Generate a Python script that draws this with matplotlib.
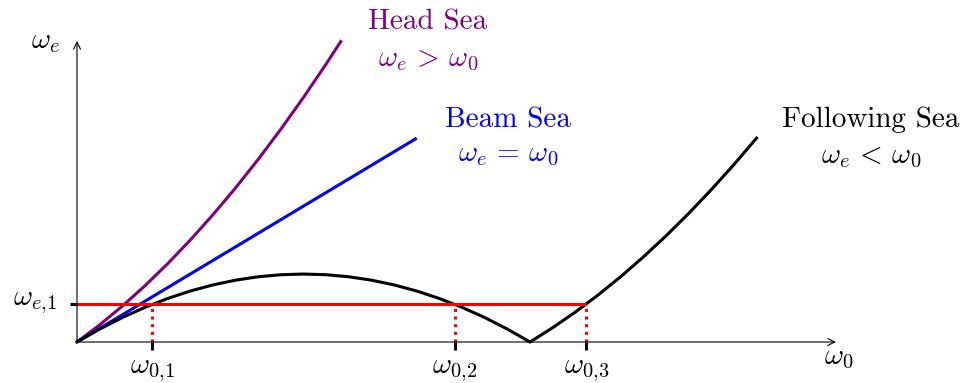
import matplotlib
matplotlib.use("Agg")
import matplotlib.pyplot as plt

plt.rcParams['mathtext.fontset'] = 'cm'
plt.rcParams['font.family'] = ['cmr10', 'DejaVu Serif']

# ---- data (omega_0 in units of the following-sea zero crossing) ----
head_w0 = [0.0, 0.05, 0.10, 0.15, 0.20, 0.25, 0.30, 0.35, 0.40, 0.45, 0.50, 0.55, 0.584]
head_we = [0.0, 0.063, 0.132, 0.207, 0.288, 0.375, 0.468, 0.567, 0.672, 0.783, 0.900, 1.023, 1.110]

beam_w0 = [0.0, 0.75]
beam_we = [0.0, 0.75]

follow_w0 = [0.0, 0.05, 0.10, 0.15, 0.20, 0.25, 0.30, 0.35, 0.40, 0.45, 0.50, 0.55, 0.60, 0.65,
             0.70, 0.75, 0.80, 0.85, 0.90, 0.95, 1.00, 1.05, 1.10, 1.15, 1.20, 1.25, 1.30, 1.35,
             1.40, 1.45, 1.50]
follow_we = [0.0, 0.0475, 0.09, 0.1275, 0.16, 0.1875, 0.21, 0.2275, 0.24, 0.2475, 0.25, 0.2475,
             0.24, 0.2275, 0.21, 0.1875, 0.16, 0.1275, 0.09, 0.0475, 0.0, 0.0525, 0.11, 0.1725,
             0.24, 0.3125, 0.39, 0.4725, 0.56, 0.6525, 0.75]

we1 = 0.139
w0_marks = [0.166, 0.834, 1.124]
w0_labels = [r'$\omega_{0{,}1}$', r'$\omega_{0{,}2}$', r'$\omega_{0{,}3}$']

# ---- pixel mapping helpers (layout) ----
X0, Y0, SX, SY = 77.0, 342.0, 453.0, 271.8
W, H = 960, 383
def px(x):
    return (x - X0) / SX
def py(y):
    return (Y0 - y) / SY

FS = 21

fig = plt.figure(figsize=(W / 100, H / 100), dpi=100)
ax = fig.add_axes([0, 0, 1, 1])
ax.set_xlim(px(0), px(W))
ax.set_ylim(py(H), py(0))
ax.axis('off')

# axes with arrows
ax.annotate('', xy=(px(836), 0), xytext=(px(77), 0),
            arrowprops=dict(arrowstyle='->,head_length=0.5,head_width=0.25', lw=0.8, color='black',
                            shrinkA=0, shrinkB=0))
ax.annotate('', xy=(0, py(41)), xytext=(0, 0),
            arrowprops=dict(arrowstyle='->,head_length=0.5,head_width=0.25', lw=0.8, color='black',
                            shrinkA=0, shrinkB=0))

# curves
LW = 2.2
ax.plot(head_w0, head_we, color='#800080', lw=LW, solid_capstyle='butt', zorder=3)
ax.plot(beam_w0, beam_we, color='#0000FF', lw=LW, solid_capstyle='butt', zorder=3)
ax.plot(follow_w0, follow_we, color='black', lw=LW, solid_joinstyle='miter', zorder=3)

# red level line and dotted drops
ax.plot([0, w0_marks[-1]], [we1, we1], color='#FF0000', lw=LW, solid_capstyle='butt', zorder=4)
for m in w0_marks:
    ax.plot([m, m], [0, we1], color='#FF0000', lw=LW, ls=(0, (1.0, 1.5)), zorder=2)

# ticks
tick_len_x = 8 / SY
tick_len_y = 7 / SX
for m, lab in zip(w0_marks, w0_labels):
    ax.plot([m, m], [0, -tick_len_x], color='black', lw=2.2, solid_capstyle='butt', zorder=5)
    ax.text(m, py(371), lab, ha='center', va='center', fontsize=FS)
ax.plot([0, -tick_len_y], [we1, we1], color='black', lw=2.2, solid_capstyle='butt', zorder=5)

# axis labels
ax.text(px(45), py(42), r'$\omega_e$', ha='center', va='center', fontsize=FS)
ax.text(px(35), py(303), r'$\omega_{e{,}1}$', ha='center', va='center', fontsize=FS)
ax.text(px(839), py(358), r'$\omega_0$', ha='center', va='center', fontsize=FS)

# annotations
ax.text(px(428), py(22), 'Head Sea', color='#800080', ha='center', va='center', fontsize=FS)
ax.text(px(428), py(60), r'$\omega_e \,>\, \omega_0$', color='#800080', ha='center', va='center', fontsize=FS)
ax.text(px(508), py(120), 'Beam Sea', color='#0000FF', ha='center', va='center', fontsize=FS)
ax.text(px(508), py(155), r'$\omega_e \,=\, \omega_0$', color='#0000FF', ha='center', va='center', fontsize=FS)
ax.text(px(871), py(120), 'Following Sea', color='black', ha='center', va='center', fontsize=FS)
ax.text(px(871), py(157), r'$\omega_e \,<\, \omega_0$', color='black', ha='center', va='center', fontsize=FS)

fig.savefig('out.png', dpi=100)
